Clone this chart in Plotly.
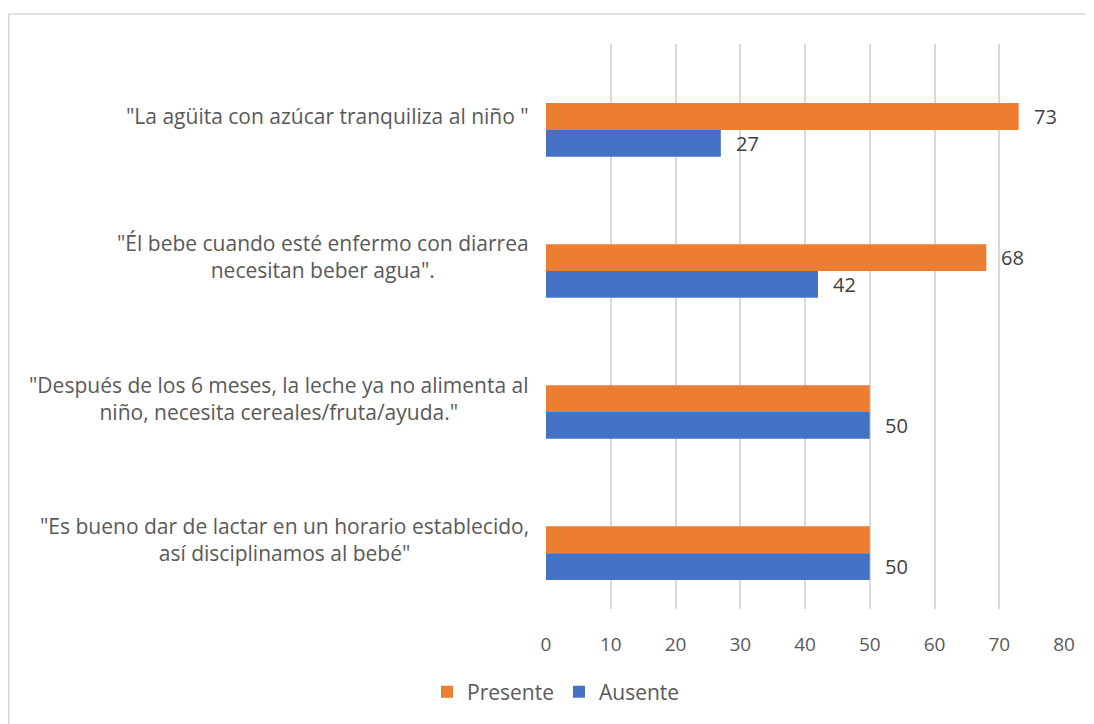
import plotly.graph_objects as go

categories = [
    '"La agüita con azúcar tranquiliza al niño "',
    '"Él bebe cuando esté enfermo con diarrea<br>necesitan beber agua".',
    '"Después de los 6 meses, la leche ya no alimenta al<br>niño, necesita cereales/fruta/ayuda."',
    '"Es bueno dar de lactar en un horario establecido,<br>así disciplinamos al bebé"',
]
presente = [73, 68, 50, 50]
ausente = [27, 42, 50, 50]
presente_labels = ["73", "68", None, None]
ausente_labels = ["27", "42", "50", "50"]
x_ticks = [0, 10, 20, 30, 40, 50, 60, 70, 80]

ORANGE = "#ED7D31"
BLUE = "#4472C4"
TXT = "#595959"
LBL = "#404040"
FONT = "Open Sans"

cat_keys = [f"c{i}" for i in range(len(categories))]

# page body adds an 8px offset; work in figure pixel coordinates
OFF = 8
W, H = 1094 - OFF, 724 - OFF
L, R, T, B = 546 - OFF, 1064 - OFF, 44 - OFF, 609 - OFF


def px_x(p):
    return (p - OFF - L) / (R - L)


def px_y(p):
    return (B - (p - OFF)) / (B - T)


fig = go.Figure()
fig.add_trace(go.Bar(y=cat_keys, x=presente, orientation="h", name="Presente",
                     marker=dict(color=ORANGE, line=dict(width=0))))
fig.add_trace(go.Bar(y=cat_keys, x=ausente, orientation="h", name="Ausente",
                     marker=dict(color=BLUE, line=dict(width=0))))

annotations = []
for k, v, lab in zip(cat_keys, presente, presente_labels):
    if lab:
        annotations.append(dict(x=v, y=k, xref="x", yref="y", text=lab, showarrow=False,
                                xanchor="left", yanchor="middle", xshift=13, yshift=13.5,
                                font=dict(family=FONT, size=20, color=LBL)))
for k, v, lab in zip(cat_keys, ausente, ausente_labels):
    if lab:
        annotations.append(dict(x=v, y=k, xref="x", yref="y", text=lab, showarrow=False,
                                xanchor="left", yanchor="middle", xshift=13, yshift=-13.5,
                                font=dict(family=FONT, size=20, color=LBL)))

for k, cat in zip(cat_keys, categories):
    annotations.append(dict(x=0, y=k, xref="paper", yref="y", text=cat, showarrow=False,
                            xanchor="right", yanchor="middle", xshift=-15, yshift=14,
                            align="center", font=dict(family=FONT, size=21, color=TXT)))

fig.update_layout(
    width=W, height=H,
    margin=dict(l=L, r=W - R, t=T, b=H - B, pad=0),
    paper_bgcolor="white", plot_bgcolor="white",
    barmode="group", bargap=0.62, bargroupgap=0,
    font=dict(family=FONT, size=19, color=TXT),
    xaxis=dict(range=[0, 80], tickvals=x_ticks, ticktext=[str(t) for t in x_ticks],
               showgrid=True, gridcolor="#d9d9d9", gridwidth=1.5, zeroline=False,
               showline=False, ticks="", tickfont=dict(family=FONT, size=19, color=TXT),
               ticklabelstandoff=22),
    yaxis=dict(categoryorder="array", categoryarray=cat_keys,
               range=[3.396, -0.609], showticklabels=False, showgrid=False,
               zeroline=False, showline=False, ticks=""),
    legend=dict(orientation="h", x=px_x(556), xanchor="center", y=px_y(692), yanchor="middle",
                font=dict(family=FONT, size=21, color=TXT), traceorder="normal",
                itemwidth=30),
    showlegend=True,
    annotations=annotations,
    shapes=[dict(type="rect", xref="paper", yref="paper",
                 x0=(0.75 - L) / (R - L), x1=(W - 0.75 - L) / (R - L),
                 y0=(B - (H + 5)) / (B - T), y1=(B - 6) / (B - T),
                 line=dict(color="#d9d9d9", width=1.5), fillcolor="rgba(0,0,0,0)",
                 layer="below")],
)

fig.write_html("out.html")
